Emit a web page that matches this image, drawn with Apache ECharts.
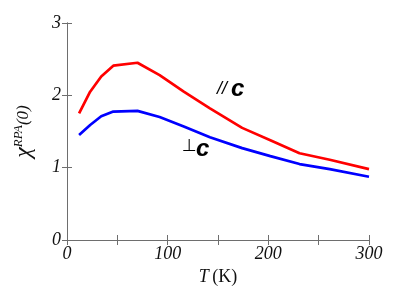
<!DOCTYPE html>
<html><head><meta charset="utf-8">
<script src="https://cdn.jsdelivr.net/npm/echarts@6/dist/echarts.min.js"></script>
<style>html,body{margin:0;padding:0;background:#fff}#c{width:397px;height:300px}</style>
</head><body><div id="c"></div>
<script>
const temps = [12, 23, 34, 46, 70, 92, 116, 142, 174, 202, 231, 261, 300];
const chiPar = [1.75, 2.05, 2.26, 2.41, 2.45, 2.28, 2.05, 1.82, 1.55, 1.38, 1.20, 1.11, 0.98];
const chiPerp = [1.45, 1.59, 1.71, 1.775, 1.785, 1.70, 1.57, 1.42, 1.27, 1.16, 1.05, 0.98, 0.875];
const xTicks = [0, 100, 200, 300];
const yTicks = [0, 1, 2, 3];

const chart = echarts.init(document.getElementById('c'));
const serif = 'Liberation Serif';
const axisCol = '#6e6e6e';
const common = {
  axisLine: {show: true, lineStyle: {color: axisCol, width: 1}},
  axisTick: {show: true, inside: true, length: 5, lineStyle: {color: axisCol}},
  splitLine: {show: false}
};
chart.setOption({
  animation: false,
  grid: {left: 67, right: 28, top: 23, bottom: 60},
  xAxis: [
    Object.assign({type: 'value', min: 0, max: 300, interval: 50, position: 'bottom',
      name: '{t|T} {k|(K)}', nameLocation: 'middle', nameGap: 26,
      nameTextStyle: {rich: {t: {fontFamily: serif, fontStyle: 'italic', fontSize: 18, color: '#111'},
                             k: {fontFamily: serif, fontSize: 18, color: '#111'}}},
      axisLabel: {fontFamily: serif, fontStyle: 'italic', fontSize: 18, color: '#111', margin: 5,
        formatter: v => xTicks.includes(v) ? String(v) : ''}}, common),
    Object.assign({type: 'value', min: 0, max: 300, interval: 50, position: 'top', axisLabel: {show: false}}, common)
  ],
  yAxis: [
    Object.assign({type: 'value', min: 0, max: 3, interval: 1, position: 'left',
      name: '{chi|χ}{sup|RPA}{p|(0)}', nameLocation: 'middle', nameGap: 31, nameRotate: 90,
      nameTextStyle: {rich: {
        chi: {fontFamily: serif, fontStyle: 'italic', fontSize: 24, color: '#111'},
        sup: {fontFamily: serif, fontStyle: 'italic', fontSize: 13, color: '#111', verticalAlign: 'top', padding: [0,0,10,0]},
        p: {fontFamily: serif, fontStyle: 'italic', fontSize: 17, color: '#111'}}},
      axisLabel: {fontFamily: serif, fontStyle: 'italic', fontSize: 18, color: '#111', margin: 6,
        formatter: v => yTicks.includes(v) ? String(v) : ''}}, common),
    Object.assign({type: 'value', min: 0, max: 3, interval: 1, position: 'right', axisLabel: {show: false}}, common)
  ],
  series: [
    {type: 'line', data: temps.map((t, i) => [t, chiPar[i]]), showSymbol: false,
     lineStyle: {color: '#ff0000', width: 2.7}},
    {type: 'line', data: temps.map((t, i) => [t, chiPerp[i]]), showSymbol: false,
     lineStyle: {color: '#0000ff', width: 2.7}}
  ],
  graphic: [
    {type: 'text', left: 217, top: 80, style: {text: '//', font: 'italic 18px "Liberation Sans"', fill: '#000'}},
    {type: 'text', left: 231, top: 77, style: {text: 'c', font: 'italic bold 24px "Liberation Sans"', fill: '#000'}},
    {type: 'text', left: 182, top: 138, style: {text: '⊥', font: '17px "DejaVu Sans"', fill: '#000'}},
    {type: 'text', left: 196, top: 137, style: {text: 'c', font: 'italic bold 24px "Liberation Sans"', fill: '#000'}}
  ]
});
</script></body></html>
